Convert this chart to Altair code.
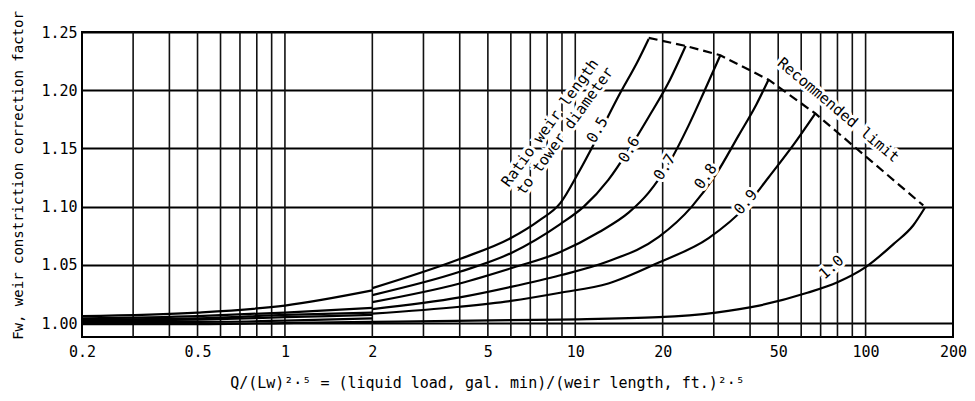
import altair as alt
import pandas as pd

FONT = "DejaVu Sans Mono"

# axis values
x_ticks = [0.2, 0.5, 1, 2, 5, 10, 20, 50, 100, 200]
y_ticks = [1.00, 1.05, 1.10, 1.15, 1.20, 1.25]
v_grid = [0.3, 0.4, 0.5, 0.6, 0.7, 0.8, 0.9, 1, 2, 3, 4, 5, 6, 7, 8, 9, 10,
          20, 30, 40, 50, 60, 70, 80, 90, 100]

# low-load part of each curve (0.2 .. 2)
low_x = [0.2, 0.5, 1, 2]
r05_low = [1.006, 1.009, 1.015, 1.028]
r06_low = [1.004, 1.006, 1.009, 1.013]
r07_low = [1.003, 1.004, 1.007, 1.009]
r08_low = [1.002, 1.003, 1.005, 1.007]
r09_low = [1.001, 1.001, 1.002, 1.004]
r10_low = [0.999, 0.999, 1.000, 1.001]

# upper part of each curve (2 .. recommended limit)
r05_x = [2, 4, 6, 7.5, 8.88, 10.3, 12.0, 14.1, 16.5, 17.9]
r05_y = [1.030, 1.055, 1.073, 1.088, 1.103, 1.130, 1.161, 1.195, 1.226, 1.244]
r06_x = [2, 4, 6, 8.88, 10.7, 13.0, 15.3, 17.9, 21.0, 24.0]
r06_y = [1.024, 1.044, 1.060, 1.085, 1.100, 1.123, 1.149, 1.177, 1.207, 1.238]
r07_x = [2, 4, 6, 8.88, 12.05, 15.3, 17.9, 21.0, 24.6, 27.7, 31.6]
r07_y = [1.018, 1.034, 1.047, 1.061, 1.078, 1.095, 1.112, 1.137, 1.170, 1.198, 1.230]
r08_x = [2, 4, 6, 8.88, 13.0, 19.4, 25.2, 30.4, 36.5, 42.1, 46.3]
r08_y = [1.012, 1.022, 1.031, 1.041, 1.053, 1.074, 1.100, 1.127, 1.161, 1.188, 1.209]
r09_x = [2, 4, 6, 8.88, 13.0, 19.4, 28.8, 38.6, 46.3, 56.4, 67.1]
r09_y = [1.008, 1.014, 1.019, 1.026, 1.034, 1.052, 1.073, 1.100, 1.125, 1.153, 1.180]
r10_x = [2, 8.88, 19.4, 30.5, 43, 63, 80, 100, 125, 146, 160]
r10_y = [1.001, 1.003, 1.005, 1.009, 1.015, 1.026, 1.035, 1.048, 1.068, 1.084, 1.099]

# recommended limit (dashed)
limit_x = [17.9, 24.0, 31.6, 46.3, 67.1, 158]
limit_y = [1.245, 1.238, 1.230, 1.209, 1.180, 1.101]

# curve labels
label_text = ["0.5", "0.6", "0.7", "0.8", "0.9", "1.0"]
label_x = [11.9, 15.3, 20.3, 28.1, 38.6, 76.2]
label_y = [1.166, 1.149, 1.134, 1.126, 1.104, 1.048]
label_angle = [300, 300, 302, 305, 310, 318]

# annotations
note_text = ["Ratio weir length", "to tower diameter", "Recommended limit"]
note_x = [8.18, 9.21, 80.6]
note_y = [1.172, 1.165, 1.183]
note_angle = [306, 306, 40]

X_TITLE = "Q/(Lw)²·⁵ = (liquid load, gal. min)/(weir length, ft.)²·⁵"
Y_TITLE = "Fw, weir constriction correction factor"

# ---------- build tables ----------
segs = [
    ("0.5a", low_x, r05_low), ("0.6a", low_x, r06_low), ("0.7a", low_x, r07_low),
    ("0.8a", low_x, r08_low), ("0.9a", low_x, r09_low), ("1.0a", low_x, r10_low),
    ("0.5b", r05_x, r05_y), ("0.6b", r06_x, r06_y), ("0.7b", r07_x, r07_y),
    ("0.8b", r08_x, r08_y), ("0.9b", r09_x, r09_y), ("1.0b", r10_x, r10_y),
]
rows = []
for name, xs, ys in segs:
    for i, (xv, yv) in enumerate(zip(xs, ys)):
        rows.append({"seg": name, "i": i, "x": xv, "y": yv})
curves = pd.DataFrame(rows)
limit = pd.DataFrame({"x": limit_x, "y": limit_y, "i": range(len(limit_x))})
vgrid = pd.DataFrame({"x": v_grid})
labels = pd.DataFrame({"x": label_x, "y": label_y, "t": label_text, "a": label_angle})
notes = pd.DataFrame({"x": note_x, "y": note_y, "t": note_text, "a": note_angle})

xscale = alt.Scale(type="log", domain=[0.2, 200], nice=False)
yscale = alt.Scale(domain=[0.988, 1.25], nice=False, zero=False)

xaxis = alt.Axis(values=x_ticks, format="~g", grid=False, ticks=False, domain=False,
                 labelFont=FONT, labelFontSize=15, labelColor="black", labelPadding=7,
                 labelFlush=False, labelOverlap=False,
                 title=X_TITLE, titleFont=FONT, titleFontSize=15, titleFontWeight="normal",
                 titleColor="black", titleX=405, titleY=50, titleBaseline="alphabetic")
yaxis = alt.Axis(values=y_ticks, format=".2f", grid=True, gridColor="black", gridWidth=2,
                 ticks=False, domain=False,
                 labelFont=FONT, labelFontSize=15, labelColor="black", labelPadding=5,
                 title=Y_TITLE, titleFont=FONT, titleFontSize=14, titleFontWeight="normal",
                 titleColor="black", titleX=-57, titleY=143)

X = alt.X("x:Q", scale=xscale, axis=xaxis)
Y = alt.Y("y:Q", scale=yscale, axis=yaxis)

grid_layer = alt.Chart(vgrid).mark_rule(color="#111", strokeWidth=1.6).encode(x=X)

curve_layer = alt.Chart(curves).mark_line(
    color="black", strokeWidth=2.2, interpolate="monotone"
).encode(x=X, y=Y, detail="seg:N", order="i:Q")

limit_layer = alt.Chart(limit).mark_line(
    color="black", strokeWidth=2.2, strokeDash=[9, 5]
).encode(x=X, y=Y, order="i:Q")

def text_layers(df, size):
    halo = alt.Chart(df).mark_text(
        font=FONT, fontSize=size, align="center", baseline="middle",
        fill="white", stroke="white", strokeWidth=6
    ).encode(x=X, y=Y, text="t:N", angle=alt.Angle("a:Q", scale=None))
    txt = alt.Chart(df).mark_text(
        font=FONT, fontSize=size, align="center", baseline="middle", color="black"
    ).encode(x=X, y=Y, text="t:N", angle=alt.Angle("a:Q", scale=None))
    return [halo, txt]

layers = [grid_layer, curve_layer, limit_layer] + text_layers(labels, 15) + text_layers(notes, 15)

chart = alt.layer(*layers).properties(
    width=871, height=305,
    autosize=alt.AutoSizeParams(type="none"),
    padding={"left": 74, "top": 24, "right": 14, "bottom": 56},
    background="white",
).configure_view(stroke="black", strokeWidth=2)

chart.save("out.html", embed_options={"renderer": "svg", "actions": False})
